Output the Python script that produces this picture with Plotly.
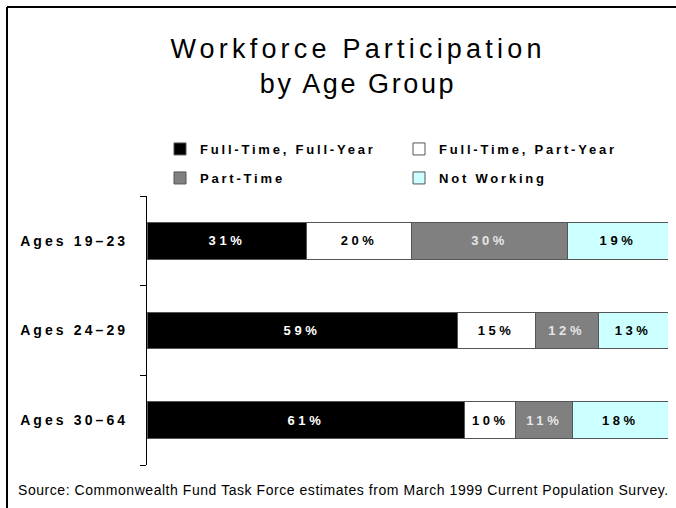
import plotly.graph_objects as go

# age groups (top to bottom) and the four work-status shares, in percent
age_groups = ["Ages 19–23", "Ages 24–29", "Ages 30–64"]
series_names = ["Full-Time, Full-Year", "Full-Time, Part-Year", "Part-Time", "Not Working"]

full_time_full_year = [30.7, 59.5, 61.0]
full_time_part_year = [20.0, 15.0, 9.8]
part_time = [30.1, 12.1, 10.9]
not_working = [19.2, 13.4, 18.3]

# the rounded percentages printed on the bars
ftfy_labels = ["31%", "59%", "61%"]
ftpy_labels = ["20%", "15%", "10%"]
pt_labels = ["30%", "12%", "11%"]
nw_labels = ["19%", "13%", "18%"]

source_note = "Source: Commonwealth Fund Task Force estimates from March 1999 Current Population Survey."

W, H = 676, 508
ML, MR, MT, MB = 147, 8, 196, 43
PW, PH = W - ML - MR, H - MT - MB


def px_x(x):
    return (x - ML) / PW


def px_y(y):
    return (H - MB - y) / PH


def spaced(s, sp):
    return f'<span style="letter-spacing:{sp}px">{s}</span>'


FONT = "Liberation Sans"
fills = ["#000000", "#ffffff", "#808080", "#ccffff"]
text_colors = ["#ffffff", "#000000", "#e6e6e6", "#000000"]
values = [full_time_full_year, full_time_part_year, part_time, not_working]
labels = [ftfy_labels, ftpy_labels, pt_labels, nw_labels]
legend_ids = ["legend", "legend", "legend2", "legend2"]

fig = go.Figure()
for name, vals, labs, fill, tc, lg in zip(series_names, values, labels, fills, text_colors, legend_ids):
    fig.add_trace(go.Bar(
        y=age_groups, x=vals, name=spaced(name, 2.8), orientation="h", legend=lg,
        marker=dict(color=fill, line=dict(color="#555555", width=1)),
        text=[spaced(t, 3.6) for t in labs], textposition="inside",
        insidetextanchor="middle", textangle=0,
        textfont=dict(family=FONT, size=13, color=tc, weight="bold"),
        hoverinfo="skip",
    ))

legend_style = dict(
    orientation="h", xanchor="left", yanchor="top", entrywidth=194,
    traceorder="normal", font=dict(family=FONT, size=13, weight="bold"),
    bgcolor="rgba(0,0,0,0)",
)

fig.update_layout(
    width=W, height=H, barmode="stack", bargap=0.59,
    margin=dict(l=ML, r=MR, t=MT, b=MB),
    paper_bgcolor="white", plot_bgcolor="white",
    font=dict(family=FONT, color="black"),
    showlegend=True,
    uniformtext=dict(minsize=13, mode="show"),
    title=dict(
        text=spaced("Workforce Participation", 4.2) + "<br>" + spaced("by Age Group", 2.6),
        font=dict(family=FONT, size=27, color="black"),
        xref="container", x=358 / W, xanchor="center",
        yref="container", y=1 - 58 / H, yanchor="top",
    ),
    legend=dict(legend_style, x=px_x(160), y=px_y(134)),
    legend2=dict(legend_style, x=px_x(160), y=px_y(163)),
)

fig.update_xaxes(range=[0, 100], visible=False, fixedrange=True)
fig.update_yaxes(
    autorange="reversed", showline=True, linecolor="black", linewidth=1,
    ticks="outside", ticklen=6, tickcolor="black", tickson="boundaries",
    tickvals=age_groups, ticktext=[spaced(a, 3.1) for a in age_groups],
    ticklabelstandoff=15, fixedrange=True,
    tickfont=dict(family=FONT, size=14, weight="bold"), showgrid=False,
)

# frame lines at the top and left edges of the picture
fig.add_shape(type="line", xref="paper", yref="paper", x0=px_x(7), x1=px_x(W), y0=px_y(7), y1=px_y(7),
              line=dict(color="black", width=2))
fig.add_shape(type="line", xref="paper", yref="paper", x0=px_x(7), x1=px_x(7), y0=px_y(7), y1=px_y(H),
              line=dict(color="black", width=2))

fig.add_annotation(
    text=spaced(source_note, 0.55), xref="paper", yref="paper", x=px_x(16), y=px_y(490),
    xanchor="left", yanchor="middle", showarrow=False,
    font=dict(family=FONT, size=14, color="black"),
)

# the page's default body margin would shift the chart by 8px
fig.write_html("out.html", config={"displayModeBar": False},
               post_script="document.body.style.margin='0';document.body.style.overflow='hidden';")
